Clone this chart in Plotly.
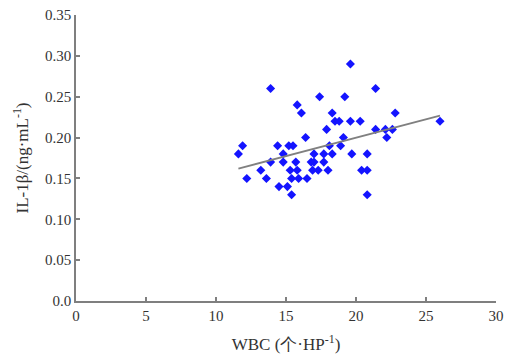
import numpy as np
import plotly.graph_objects as go

# WBC (x) and IL-1beta (y) values
wbc = [19.6,
       13.9, 21.4,
       17.4, 19.2,
       15.8,
       16.1, 18.3, 22.8,
       18.5, 18.8, 19.6, 20.3, 26.0,
       17.9, 21.4, 22.1, 22.6,
       16.4, 19.1, 22.2,
       11.9, 14.4, 15.2, 15.5, 18.1, 18.9,
       11.6, 14.8, 17.0, 17.7, 18.3, 19.7, 20.8,
       13.9, 14.8, 15.7, 16.8, 17.0, 17.7,
       13.2, 15.3, 15.8, 16.9, 17.3, 18.0, 20.4, 20.8,
       12.2, 13.6, 15.4, 15.9, 16.5,
       14.5, 15.1,
       15.4, 20.8]
il1b = [0.29,
        0.26, 0.26,
        0.25, 0.25,
        0.24,
        0.23, 0.23, 0.23,
        0.22, 0.22, 0.22, 0.22, 0.22,
        0.21, 0.21, 0.21, 0.21,
        0.20, 0.20, 0.20,
        0.19, 0.19, 0.19, 0.19, 0.19, 0.19,
        0.18, 0.18, 0.18, 0.18, 0.18, 0.18, 0.18,
        0.17, 0.17, 0.17, 0.17, 0.17, 0.17,
        0.16, 0.16, 0.16, 0.16, 0.16, 0.16, 0.16, 0.16,
        0.15, 0.15, 0.15, 0.15, 0.15,
        0.14, 0.14,
        0.13, 0.13]

# Trend line endpoints
trend_x = [11.6, 26.0]
trend_y = [0.162, 0.227]

x_ticks = [0, 5, 10, 15, 20, 25, 30]
y_ticks = [0.0, 0.05, 0.10, 0.15, 0.20, 0.25, 0.30, 0.35]
y_ticktext = ["0.0", "0.05", "0.10", "0.15", "0.20", "0.25", "0.30", "0.35"]

font_family = "Liberation Serif, Times New Roman, serif"

fig = go.Figure()
fig.add_trace(go.Scatter(
    x=wbc, y=il1b, mode="markers",
    marker=dict(symbol="diamond", size=7, color="#1414ff"),
    showlegend=False, hoverinfo="skip"))
fig.add_trace(go.Scatter(
    x=trend_x, y=trend_y, mode="lines",
    line=dict(color="#808080", width=1.8),
    showlegend=False, hoverinfo="skip"))

axis_common = dict(
    showgrid=False, zeroline=False, showline=True, automargin=False,
    linecolor="#7f7f7f", linewidth=1.5,
    ticks="inside", ticklen=4, tickcolor="#7f7f7f", tickwidth=1.5,
    tickfont=dict(family=font_family, size=15, color="#333333"),
)

fig.update_layout(
    width=512, height=361,
    margin=dict(l=76, r=16, t=15, b=60),
    paper_bgcolor="white", plot_bgcolor="white",
    font=dict(family=font_family, color="#333333"),
    xaxis=dict(range=[0, 30], tickvals=x_ticks,
               title=dict(text="WBC (个·HP<sup>-1</sup>)", standoff=15,
                          font=dict(family=font_family, size=17, color="#333333")),
               **axis_common),
    yaxis=dict(range=[0, 0.35], tickvals=y_ticks, ticktext=y_ticktext,
               title=dict(text="IL-1β/(ng·mL<sup>-1</sup>)", standoff=12,
                          font=dict(family=font_family, size=17, color="#333333")),
               **axis_common),
)

fig.write_html("out.html", config={"displayModeBar": False},
               post_script="document.body.style.margin='0';document.body.style.overflow='hidden';")
